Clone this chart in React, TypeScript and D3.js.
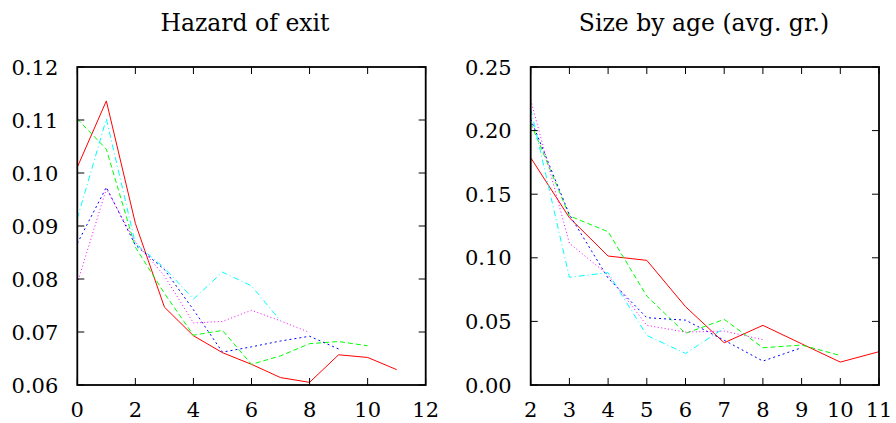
import React from "react";
import * as d3 from "d3";

// hazard of exit, by age 0..11
const hazardAges = [0, 1, 2, 3, 4, 5, 6, 7, 8, 9, 10, 11];
const hazardRed = [0.1011, 0.1136, 0.0905, 0.0747, 0.0693, 0.0661, 0.0639, 0.0614, 0.0605, 0.0657, 0.0652, 0.0629];
const hazardGreen = [0.1102, 0.1045, 0.086, 0.0773, 0.0694, 0.0703, 0.0639, 0.0655, 0.0678, 0.0682, 0.0674];
const hazardBlue = [0.0867, 0.0973, 0.0864, 0.0818, 0.0742, 0.0662, 0.0672, 0.0683, 0.0692, 0.0668];
const hazardMagenta = [0.0792, 0.097, 0.087, 0.0806, 0.0717, 0.072, 0.0741, 0.0721, 0.0699];
const hazardCyan = [0.0914, 0.1102, 0.0867, 0.0821, 0.0762, 0.0813, 0.0787, 0.0721];

// size by age (avg. growth), ages 2..11
const sizeAges = [2, 3, 4, 5, 6, 7, 8, 9, 10, 11];
const sizeRed = [0.1787, 0.1315, 0.1014, 0.098, 0.0616, 0.0332, 0.0469, 0.0324, 0.018, 0.0262];
const sizeGreen = [0.206, 0.133, 0.1205, 0.0699, 0.0406, 0.0516, 0.0293, 0.0314, 0.0232];
const sizeBlue = [0.209, 0.134, 0.084, 0.0529, 0.051, 0.0352, 0.0188, 0.0293];
const sizeMagenta = [0.224, 0.1114, 0.0865, 0.0469, 0.0416, 0.0424, 0.0356];
const sizeCyan = [0.217, 0.0847, 0.0883, 0.039, 0.0248, 0.0447];

const hazardXTicks = [0, 2, 4, 6, 8, 10, 12];
const hazardYTicks = [0.06, 0.07, 0.08, 0.09, 0.1, 0.11, 0.12];
const sizeXTicks = [2, 3, 4, 5, 6, 7, 8, 9, 10, 11];
const sizeYTicks = [0, 0.05, 0.1, 0.15, 0.2, 0.25];

const styles = [
  { color: "#ff0000", dash: "none" },
  { color: "#00ff00", dash: "5,3" },
  { color: "#0000ff", dash: "2,3" },
  { color: "#ff00ff", dash: "1,2.5" },
  { color: "#00ffff", dash: "6,3,1,3" },
];

const font = "DejaVu Serif";
const fs = 21;

type PanelProps = {
  title: string;
  titleX: number;
  left: number;
  right: number;
  xDomain: [number, number];
  yDomain: [number, number];
  xTicks: number[];
  yTicks: number[];
  ages: number[];
  series: number[][];
};

function Panel({ title, titleX, left, right, xDomain, yDomain, xTicks, yTicks, ages, series }: PanelProps) {
  const top = 67;
  const bottom = 385;
  const x = d3.scaleLinear().domain(xDomain).range([left, right]);
  const y = d3.scaleLinear().domain(yDomain).range([bottom, top]);
  const line = d3
    .line<number>()
    .x((_, i) => x(ages[i]))
    .y((d) => y(d));
  const tl = 7;
  return (
    <g>
      <text x={titleX} y={31} textAnchor="middle" fontFamily={font} fontSize={23.5}>
        {title}
      </text>
      {series.map((s, i) => (
        <path
          key={i}
          d={line(s) || ""}
          fill="none"
          stroke={styles[i].color}
          strokeWidth={1}
          strokeDasharray={styles[i].dash}
        />
      ))}
      {xTicks.map((t) => (
        <g key={"x" + t}>
          <line x1={x(t)} x2={x(t)} y1={bottom} y2={bottom - tl} stroke="#000" />
          <line x1={x(t)} x2={x(t)} y1={top} y2={top + tl} stroke="#000" />
          <text x={x(t)} y={417} textAnchor="middle" fontFamily={font} fontSize={fs}>
            {t}
          </text>
        </g>
      ))}
      {yTicks.map((t) => (
        <g key={"y" + t}>
          <line x1={left} x2={left + tl} y1={y(t)} y2={y(t)} stroke="#000" />
          <line x1={right} x2={right - tl} y1={y(t)} y2={y(t)} stroke="#000" />
          <text
            x={left - 19}
            y={y(t)}
            dy="0.36em"
            textAnchor="end"
            fontFamily={font}
            fontSize={fs}
          >
            {t.toFixed(2)}
          </text>
        </g>
      ))}
      <rect
        x={left}
        y={top}
        width={right - left}
        height={bottom - top}
        fill="none"
        stroke="#000"
        strokeWidth={1.8}
      />
    </g>
  );
}

export default function App() {
  return (
    <svg
      width={896}
      height={423}
      style={{ position: "absolute", left: 0, top: 0, background: "#fff" }}
    >
      <Panel
        title="Hazard of exit"
        titleX={245}
        left={77.3}
        right={425.7}
        xDomain={[0, 12]}
        yDomain={[0.06, 0.12]}
        xTicks={hazardXTicks}
        yTicks={hazardYTicks}
        ages={hazardAges}
        series={[hazardRed, hazardGreen, hazardBlue, hazardMagenta, hazardCyan]}
      />
      <Panel
        title="Size by age (avg. gr.)"
        titleX={704}
        left={530.7}
        right={879}
        xDomain={[2, 11]}
        yDomain={[0, 0.25]}
        xTicks={sizeXTicks}
        yTicks={sizeYTicks}
        ages={sizeAges}
        series={[sizeRed, sizeGreen, sizeBlue, sizeMagenta, sizeCyan]}
      />
    </svg>
  );
}
